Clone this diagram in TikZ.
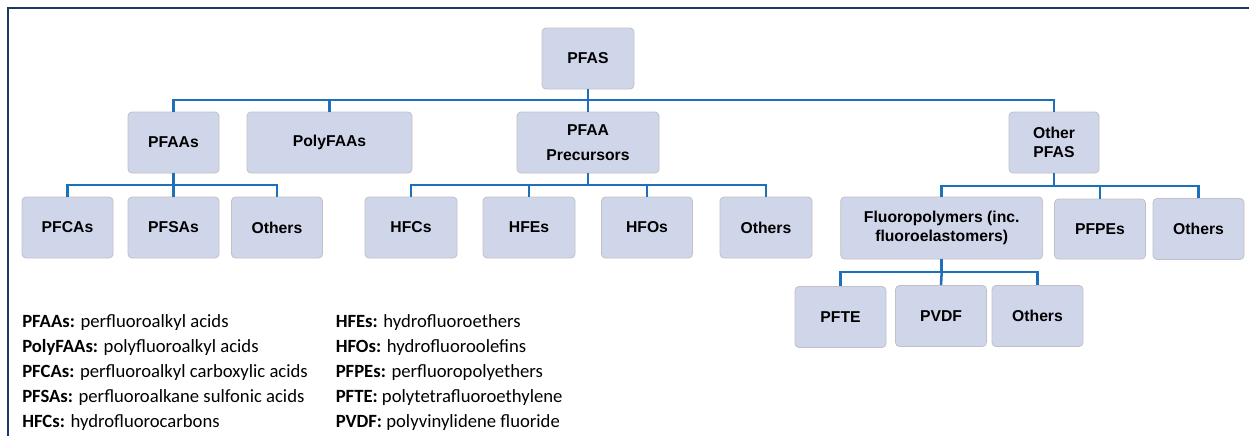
\documentclass[tikz,border=0pt]{standalone}
\usepackage{fontspec}
\setsansfont{Liberation Sans}
\newfontfamily\legendfont{Carlito}
\usetikzlibrary{positioning}
\definecolor{boxfill}{RGB}{208,214,234}
\definecolor{boxline}{RGB}{192,192,198}
\definecolor{linkblue}{RGB}{30,112,186}
\definecolor{framenavy}{RGB}{32,56,100}
\tikzset{
  box/.style={align=center,rectangle,rounded corners=3pt,draw=boxline,line width=0.6pt,fill=boxfill,minimum height=45.75pt,minimum width=68.25pt,inner sep=2pt,font=\sffamily\bfseries\fontsize{11.8}{14}\selectfont},
  link/.style={draw=linkblue,line width=1.9pt},
  legend/.style={anchor=base west,inner sep=0pt,font=\legendfont\fontsize{14}{18}\selectfont},
  frame/.style={draw=framenavy,line width=1.6pt}
}
\begin{document}
\begin{tikzpicture}[x=0.75pt,y=-0.75pt]
    \useasboundingbox (0,0) rectangle (1249,436);
    \draw[frame] (1249,8) -- (8,8) -- (8,436);

    % top level
    \node at (588, 58.5) [box, minimum width=69pt] (pfas) {PFAS};
    \node at (173.5, 142.5) [box] (pfaas) {PFAAs};
    \node at (329.5, 142.5) [box, minimum width=123.75pt] (polyfaas) {PolyFAAs};
    \node at (588, 142.5) [box, minimum width=106.5pt] (precursors) {PFAA\\[5pt]Precursors};
    \node at (1054, 142.5) [box, minimum width=67.5pt] (otherpfas) {Other\\PFAS};

    % second level
    \node at (67.5, 227.5) [box] (pfcas) {PFCAs};
    \node at (173.5, 227.5) [box] (pfsas) {PFSAs};
    \node at (277, 227.5) [box] (others1) {Others};
    \node at (411, 227.5) [box, minimum width=69pt] (hfcs) {HFCs};
    \node at (529, 227.5) [box, minimum width=69pt] (hfes) {HFEs};
    \node at (647, 227.5) [box] (hfos) {HFOs};
    \node at (766, 227.5) [box, minimum width=69pt] (others2) {Others};
    \node at (941.7, 228) [box, minimum width=151.5pt, minimum height=46.5pt] (fluoro) {Fluoropolymers (inc.\\fluoroelastomers)};
    \node at (1100, 229) [box, minimum height=45pt] (pfpes) {PFPEs};
    \node at (1198.5, 229) [box] (others3) {Others};

    % third level
    \node at (840.5, 317) [box] (pfte) {PFTE};
    \node at (941, 316) [box] (pvdf) {PVDF};
    \node at (1037.5, 316) [box] (others4) {Others};

    % buses
    \coordinate (bus0) at (588, 100);
    \coordinate (bus1) at (173.5, 185);
    \coordinate (bus2) at (588, 185);
    \coordinate (bus3) at (1054, 186);
    \coordinate (bus4) at (941.7, 272);

    \draw[link] (pfas.south) -- (bus0);
    \draw[link] (bus0) -| (pfaas.north);
    \draw[link] (bus0) -| (polyfaas.north);
    \draw[link] (bus0) -- (precursors.north);
    \draw[link] (bus0) -| (otherpfas.north);

    \draw[link] (pfaas.south) -- (bus1);
    \draw[link] (bus1) -| (pfcas.north);
    \draw[link] (bus1) -- (pfsas.north);
    \draw[link] (bus1) -| (others1.north);

    \draw[link] (precursors.south) -- (bus2);
    \draw[link] (bus2) -| (hfcs.north);
    \draw[link] (bus2) -| (hfes.north);
    \draw[link] (bus2) -| (hfos.north);
    \draw[link] (bus2) -| (others2.north);

    \draw[link] (otherpfas.south) -- (bus3);
    \draw[link] (bus3) -| (fluoro.north);
    \draw[link] (bus3) -| (pfpes.north);
    \draw[link] (bus3) -| (others3.north);

    \draw[link] (fluoro.south) -- (bus4);
    \draw[link] (bus4) -| (pfte.north);
    \draw[link] (bus4) -- (pvdf.north);
    \draw[link] (bus4) -| (others4.north);

    % legend
    \node at (22, 327) [legend] (keyA) {\textbf{PFAAs:} perfluoroalkyl acids};
    \node at (22, 352) [legend] (keyB) {\textbf{PolyFAAs:} polyfluoroalkyl acids};
    \node at (22, 377) [legend] (keyC) {\textbf{PFCAs:} perfluoroalkyl carboxylic acids};
    \node at (22, 402) [legend] (keyD) {\textbf{PFSAs:} perfluoroalkane sulfonic acids};
    \node at (22, 427) [legend] (keyE) {\textbf{HFCs:} hydrofluorocarbons};
    \node at (335.5, 327) [legend] (keyF) {\textbf{HFEs:} hydrofluoroethers};
    \node at (335.5, 352) [legend] (keyG) {\textbf{HFOs:} hydrofluoroolefins};
    \node at (335.5, 377) [legend] (keyH) {\textbf{PFPEs:} perfluoropolyethers};
    \node at (335.5, 402) [legend] (keyI) {\textbf{PFTE:} polytetrafluoroethylene};
    \node at (335.5, 427) [legend] (keyJ) {\textbf{PVDF:} polyvinylidene fluoride};
\end{tikzpicture}
\end{document}
